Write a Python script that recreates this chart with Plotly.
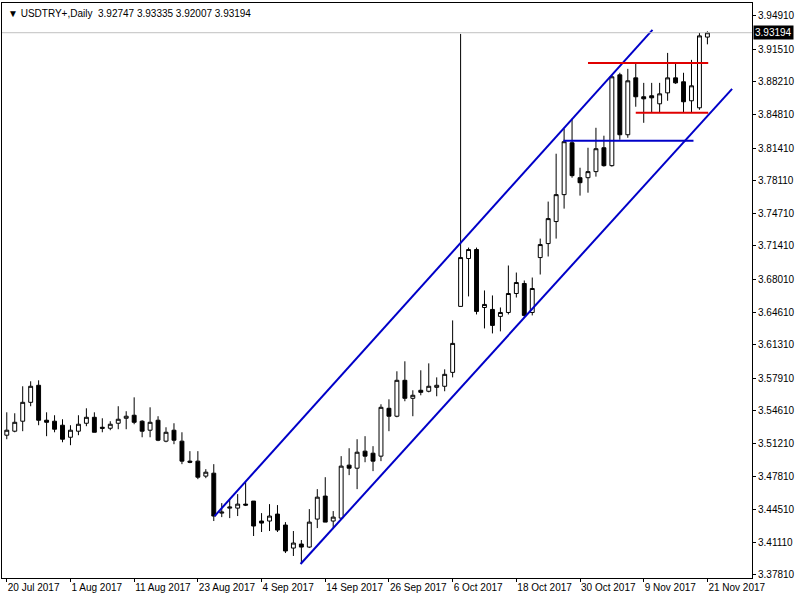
import plotly.graph_objects as go

# daily bars, x = trading-day index from 20 Jul 2017
opens = [3.5207, 3.5248, 3.5350, 3.5543, 3.5717, 3.5360, 3.5350, 3.5309, 3.5186, 3.5248,
         3.5329, 3.5390, 3.5288, 3.5278, 3.5329, 3.5380, 3.5411, 3.5350, 3.5258, 3.5360,
         3.5146, 3.5258, 3.5146, 3.4942, 3.4942, 3.4789, 3.4819, 3.4411, 3.4462, 3.4462,
         3.4503, 3.4534, 3.4330, 3.4330, 3.4401, 3.4289, 3.4054, 3.4095, 3.4064, 3.4350,
         3.4585, 3.4330, 3.4360, 3.4901, 3.4870, 3.5044, 3.5023, 3.4993, 3.5482, 3.5401,
         3.5768, 3.5584, 3.5666, 3.5656, 3.5696, 3.5707, 3.5849, 3.6523, 3.7012, 3.7104,
         3.6512, 3.6492, 3.6421, 3.6461, 3.6655, 3.6757, 3.6461, 3.7022, 3.7165, 3.7390,
         3.7665, 3.8195, 3.7838, 3.7838, 3.7900, 3.8144, 3.7961, 3.8889, 3.8277, 3.8858,
         3.8665, 3.8675, 3.8593, 3.8705, 3.8858, 3.8818, 3.8624, 3.8552, 3.92747]
highs = [3.5441, 3.5431, 3.5707, 3.5758, 3.5768, 3.5441, 3.5411, 3.5370, 3.5309, 3.5411,
         3.5482, 3.5441, 3.5380, 3.5350, 3.5503, 3.5452, 3.5594, 3.5360, 3.5492, 3.5401,
         3.5288, 3.5329, 3.5237, 3.5044, 3.5044, 3.4860, 3.4911, 3.4513, 3.4554, 3.4605,
         3.4728, 3.4534, 3.4411, 3.4503, 3.4493, 3.4319, 3.4228, 3.4136, 3.4452, 3.4656,
         3.4778, 3.4432, 3.4993, 3.5074, 3.5166, 3.5197, 3.5095, 3.5523, 3.5574, 3.5860,
         3.5962, 3.5666, 3.5870, 3.5941, 3.5798, 3.5880, 3.6380, 3.9307, 3.7124, 3.7124,
         3.6686, 3.6635, 3.6512, 3.6941, 3.6869, 3.6788, 3.6818, 3.7216, 3.7594, 3.8083,
         3.8338, 3.8440, 3.7940, 3.8144, 3.8348, 3.8267, 3.8889, 3.8910, 3.8950, 3.9011,
         3.8807, 3.8807, 3.8807, 3.9113, 3.9011, 3.8910, 3.9042, 3.9317, 3.93335]
lows = [3.5166, 3.5237, 3.5248, 3.5503, 3.5309, 3.5197, 3.5237, 3.5135, 3.5105, 3.5207,
        3.5299, 3.5237, 3.5237, 3.5258, 3.5268, 3.5268, 3.5319, 3.5186, 3.5186, 3.5146,
        3.5135, 3.5115, 3.4911, 3.4921, 3.4758, 3.4768, 3.4330, 3.4370, 3.4360, 3.4381,
        3.4483, 3.4177, 3.4218, 3.4228, 3.4218, 3.4003, 3.3973, 3.3891, 3.4054, 3.4258,
        3.4319, 3.4258, 3.4350, 3.4799, 3.4656, 3.4931, 3.4840, 3.4942, 3.5248, 3.5390,
        3.5554, 3.5401, 3.5615, 3.5645, 3.5605, 3.5656, 3.5798, 3.6523, 3.6625, 3.6441,
        3.6298, 3.6247, 3.6268, 3.6441, 3.6614, 3.6410, 3.6431, 3.6849, 3.7033, 3.7216,
        3.7522, 3.7838, 3.7655, 3.7685, 3.7849, 3.7951, 3.7951, 3.8226, 3.8246, 3.8563,
        3.8399, 3.8501, 3.8501, 3.8624, 3.8797, 3.8501, 3.8501, 3.8532, 3.92007]
closes = [3.5258, 3.5339, 3.5543, 3.5707, 3.5360, 3.5339, 3.5268, 3.5166, 3.5258, 3.5319,
          3.5390, 3.5237, 3.5278, 3.5319, 3.5370, 3.5401, 3.5339, 3.5248, 3.5339, 3.5156,
          3.5237, 3.5156, 3.4942, 3.4931, 3.4778, 3.4829, 3.4381, 3.4421, 3.4472, 3.4503,
          3.4493, 3.4279, 3.4309, 3.4381, 3.4238, 3.4024, 3.4105, 3.4064, 3.4319, 3.4574,
          3.4319, 3.4370, 3.4891, 3.4870, 3.5033, 3.4993, 3.4942, 3.5492, 3.5401, 3.5768,
          3.5584, 3.5615, 3.5645, 3.5707, 3.5717, 3.5829, 3.6145, 3.7022, 3.7104, 3.6472,
          3.6543, 3.6329, 3.6461, 3.6655, 3.6767, 3.6431, 3.6706, 3.7155, 3.7420, 3.7665,
          3.8206, 3.7859, 3.7787, 3.7900, 3.8134, 3.7961, 3.8869, 3.8277, 3.8828, 3.8665,
          3.8644, 3.8654, 3.8695, 3.8858, 3.8807, 3.8614, 3.8777, 3.9287, 3.93194]

date_idx = [0, 8, 16, 24, 32, 40, 48, 56, 64, 72, 80, 88]
date_labels = ["20 Jul 2017", "1 Aug 2017", "11 Aug 2017", "23 Aug 2017", "4 Sep 2017",
               "14 Sep 2017", "26 Sep 2017", "6 Oct 2017", "18 Oct 2017", "30 Oct 2017",
               "9 Nov 2017", "21 Nov 2017"]
price_ticks = [3.94910, 3.91510, 3.88210, 3.84810, 3.81410, 3.78110, 3.74710, 3.71410,
               3.68010, 3.64610, 3.61310, 3.57910, 3.54610, 3.51210, 3.47810, 3.44510,
               3.41110, 3.37810]

# drawn objects: (x0, y0, x1, y1) in bar index / price
channel_upper = [26.1, 3.4381, 81.1, 3.9348]
channel_lower = [36.9, 3.3891, 91.1, 3.8746]
support_blue = [69.9, 3.8216, 86.25, 3.8216]
range_top = [73.0, 3.9011, 88.1, 3.9011]
range_bottom = [79.0, 3.8501, 88.1, 3.8501]

FONT = "Liberation Sans"

x = list(range(len(opens)))
fig = go.Figure()
fig.add_trace(go.Candlestick(
    x=x, open=opens, high=highs, low=lows, close=closes,
    increasing=dict(line=dict(color="black", width=1), fillcolor="white"),
    decreasing=dict(line=dict(color="black", width=1), fillcolor="black"),
    whiskerwidth=0, showlegend=False, hoverinfo="skip"))

for seg, col in [(channel_upper, "#0000c8"), (channel_lower, "#0000c8"),
                 (support_blue, "#0000c8"), (range_top, "#e00000"), (range_bottom, "#e00000")]:
    fig.add_shape(type="line", x0=seg[0], y0=seg[1], x1=seg[2], y1=seg[3],
                  line=dict(color=col, width=2))

last = closes[-1]
fig.add_hline(y=last, line=dict(color="#c0c0c0", width=1))

fig.add_annotation(xref="paper", yref="y", x=1, y=last, text=f"{last:.5f}",
                   showarrow=False, xanchor="left", xshift=1, bgcolor="black",
                   font=dict(color="white", size=10, family=FONT), borderpad=1)
fig.add_annotation(xref="paper", yref="paper", x=0, y=1, xanchor="left", yanchor="top",
                   xshift=4, yshift=-3, showarrow=False,
                   text=f"▼ USDTRY+,Daily  {opens[-1]:.5f} {highs[-1]:.5f} {lows[-1]:.5f} {last:.5f}",
                   font=dict(size=10, family=FONT, color="black"))

fig.update_layout(
    width=800, height=600, margin=dict(l=2, r=48, t=3, b=22),
    paper_bgcolor="white", plot_bgcolor="white",
    font=dict(family=FONT, size=10, color="black"),
    xaxis=dict(range=[-0.6, 93.6], tickvals=date_idx, ticktext=date_labels,
               ticklabelposition="outside right", ticks="outside", ticklen=3, tickangle=0,
               tickcolor="black", showgrid=False, zeroline=False, rangeslider=dict(visible=False),
               showline=True, linecolor="black", mirror=True, tickfont=dict(size=10),
               automargin=False),
    yaxis=dict(range=[3.3748, 3.9623], side="right", tickvals=price_ticks,
               ticktext=[f"{v:.5f}" for v in price_ticks], ticks="outside", ticklen=3,
               tickcolor="black", showgrid=False, zeroline=False, automargin=False,
               showline=True, linecolor="black", mirror=True, tickfont=dict(size=10)),
)

fig.write_html("out.html", config={"displayModeBar": False},
               post_script="document.body.style.margin='0';")
